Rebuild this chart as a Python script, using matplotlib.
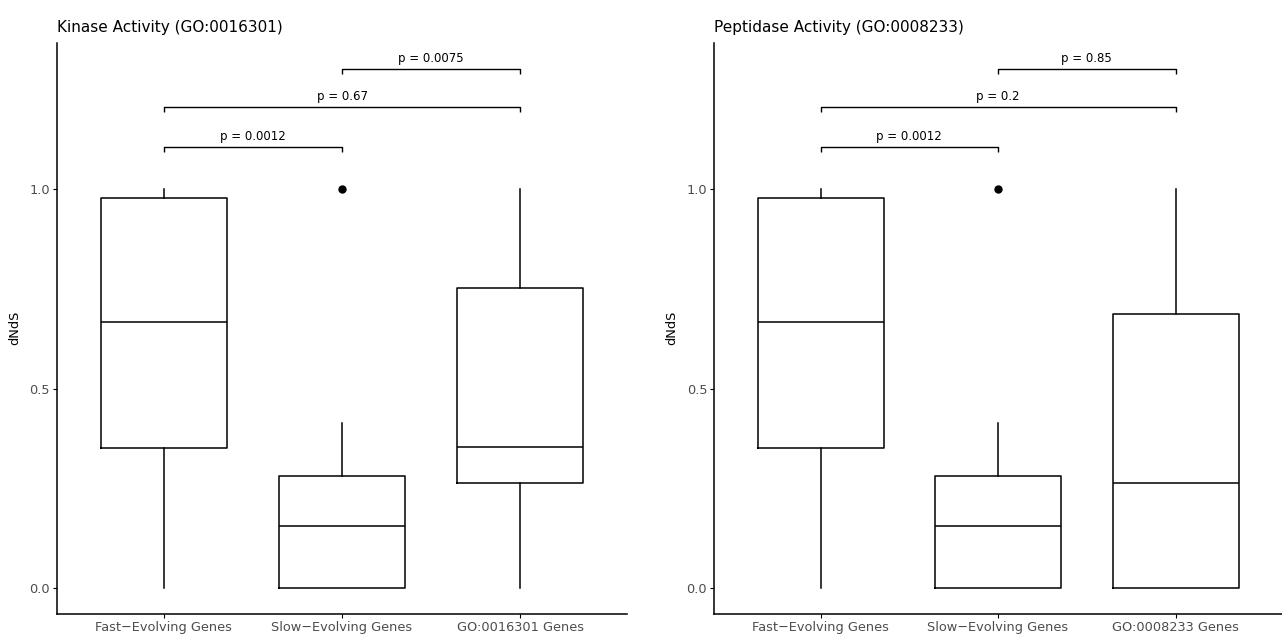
import matplotlib
matplotlib.use("Agg")
import matplotlib.pyplot as plt

plt.rcParams["font.family"] = ["DejaVu Sans"]

# --- data ---
groups_common = ["Fast\u2212Evolving Genes", "Slow\u2212Evolving Genes"]
panel_titles = ["Kinase Activity (GO:0016301)", "Peptidase Activity (GO:0008233)"]
go_labels = ["GO:0016301 Genes", "GO:0008233 Genes"]

# box stats per group: whisker low, Q1, median, Q3, whisker high
fast_stats = [0.0, 0.352, 0.667, 0.976, 1.0]
slow_stats = [0.0, 0.0, 0.156, 0.282, 0.415]
slow_outliers = [1.0]
kinase_stats = [0.0, 0.263, 0.354, 0.752, 1.0]
peptidase_stats = [0.0, 0.0, 0.265, 0.687, 1.0]

# p values: (group i, group j, label, bracket height)
kinase_p = [(1, 2, "p = 0.0012", 1.105), (1, 3, "p = 0.67", 1.204), (2, 3, "p = 0.0075", 1.300)]
peptidase_p = [(1, 2, "p = 0.0012", 1.105), (1, 3, "p = 0.2", 1.204), (2, 3, "p = 0.85", 1.300)]


def make_stats(vals, fliers=()):
    lo, q1, med, q3, hi = vals
    return dict(whislo=lo, q1=q1, med=med, q3=q3, whishi=hi, fliers=list(fliers))


def draw_panel(ax, title, go_label, go_stats, pvals):
    stats = [make_stats(fast_stats), make_stats(slow_stats, slow_outliers), make_stats(go_stats)]
    lw = 1.1
    ax.bxp(stats, positions=[1, 2, 3], widths=0.71, showcaps=False,
           boxprops=dict(color="black", lw=lw),
           whiskerprops=dict(color="black", lw=lw),
           medianprops=dict(color="black", lw=lw),
           flierprops=dict(marker="o", markerfacecolor="black", markeredgecolor="black", markersize=5))

    for i, j, label, h in pvals:
        ax.plot([i, i, j, j], [h - 0.012, h, h, h - 0.012], color="black", lw=1.0, solid_capstyle="butt")
        ax.text((i + j) / 2, h + 0.01, label, ha="center", va="bottom", fontsize=8.5)

    ax.set_xlim(0.4, 3.6)
    ax.set_ylim(-0.064, 1.366)
    ax.set_yticks([0.0, 0.5, 1.0])
    ax.set_yticklabels(["0.0", "0.5", "1.0"])
    ax.set_xticks([1, 2, 3])
    ax.set_xticklabels(groups_common + [go_label])
    ax.tick_params(axis="both", labelsize=9.3, labelcolor="#4d4d4d", length=3, width=0.8, pad=2)
    ax.spines[["top", "right"]].set_visible(False)
    ax.spines[["left", "bottom"]].set_linewidth(1.1)
    ax.set_ylabel("dNdS", fontsize=9.3, labelpad=6)
    ax.set_title(title, loc="left", fontsize=11, pad=8)


fig = plt.figure(figsize=(12.82, 6.37), dpi=100)
ax1 = fig.add_axes([0.0445, 0.0361, 0.4446, 0.897])
ax2 = fig.add_axes([0.557, 0.0361, 0.443, 0.897])

draw_panel(ax1, panel_titles[0], go_labels[0], kinase_stats, kinase_p)
draw_panel(ax2, panel_titles[1], go_labels[1], peptidase_stats, peptidase_p)

fig.savefig("out.png", dpi=100)
